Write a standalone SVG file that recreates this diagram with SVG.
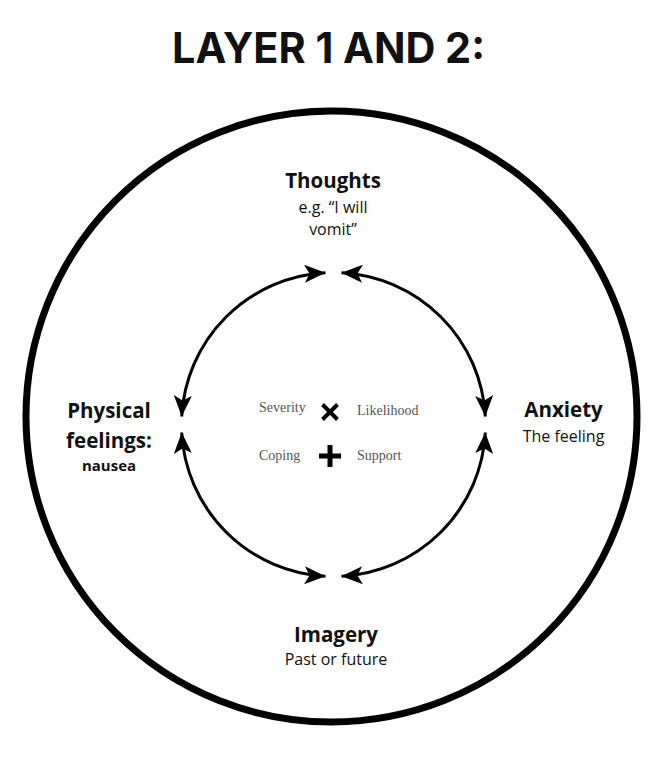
<svg xmlns="http://www.w3.org/2000/svg" width="661" height="765" viewBox="0 0 661 765">
  <style>
    .title { font-family: Inter, "Open Sans", "Liberation Sans", sans-serif; font-weight: 700; font-size: 42px; fill: #111; }
    .head { font-family: "Open Sans", "Noto Sans", "Liberation Sans", sans-serif; font-weight: 700; font-size: 20.5px; fill: #111; text-anchor: middle; }
    .sub { font-family: "Open Sans", "Noto Sans", "Liberation Sans", sans-serif; font-weight: 400; font-size: 16px; fill: #111; text-anchor: middle; }
    .subb { font-family: "Open Sans", "Noto Sans", "Liberation Sans", sans-serif; font-weight: 700; font-size: 15px; fill: #111; text-anchor: middle; }
    .mid { font-family: "Liberation Serif", "DejaVu Serif", serif; font-size: 14px; fill: #555; }
    .arc { fill: none; stroke: #000; stroke-width: 3; }
    .sym { stroke: #000; fill: none; }
  </style>
  <defs>
    <marker id="ah" markerUnits="userSpaceOnUse" viewBox="0 0 22 18" markerWidth="22" markerHeight="18" refX="21" refY="9" orient="auto-start-reverse">
      <path d="M0,0 L21,9 L0,18 L5,9 Z" fill="#000"/>
    </marker>
  </defs>

  <text class="title" x="172" y="63" textLength="313" lengthAdjust="spacingAndGlyphs">LAYER 1 AND 2:</text>

  <g id="outer-circle">
    <circle cx="331.5" cy="416.5" r="305.5" fill="none" stroke="#000" stroke-width="7"/>
  </g>

  <g id="connectors">
    <path class="arc" d="M181.7,416.5 A152,152 0 0 1 325.5,272.7" marker-start="url(#ah)" marker-end="url(#ah)"/>
    <path class="arc" d="M341.5,272.7 A152,152 0 0 1 485.3,416.5" marker-start="url(#ah)" marker-end="url(#ah)"/>
    <path class="arc" d="M485.3,432.5 A152,152 0 0 1 341.5,576.3" marker-start="url(#ah)" marker-end="url(#ah)"/>
    <path class="arc" d="M325.5,576.3 A152,152 0 0 1 181.7,432.5" marker-start="url(#ah)" marker-end="url(#ah)"/>
  </g>

  <g id="thoughts">
    <text class="head" x="333" y="188">Thoughts</text>
    <text class="sub" x="333" y="213">e.g. “I will</text>
    <text class="sub" x="333" y="235">vomit”</text>
  </g>

  <g id="physical">
    <text class="head" x="109" y="418">Physical</text>
    <text class="head" x="109" y="448">feelings:</text>
    <text class="subb" x="109" y="471">nausea</text>
  </g>

  <g id="anxiety">
    <text class="head" x="563.5" y="417">Anxiety</text>
    <text class="sub" x="563.5" y="442">The feeling</text>
  </g>

  <g id="imagery">
    <text class="head" x="336" y="642">Imagery</text>
    <text class="sub" x="336" y="665">Past or future</text>
  </g>

  <g id="centre">
    <text class="mid" x="259" y="412">Severity</text>
    <path class="sym" d="M322.5,404.5 L337.5,419.5 M337.5,404.5 L322.5,419.5" stroke-width="4"/>
    <text class="mid" x="357" y="415">Likelihood</text>
    <text class="mid" x="259" y="460">Coping</text>
    <path class="sym" d="M330,445 L330,467 M319,456 L341,456" stroke-width="5"/>
    <text class="mid" x="357" y="460">Support</text>
  </g>
</svg>
